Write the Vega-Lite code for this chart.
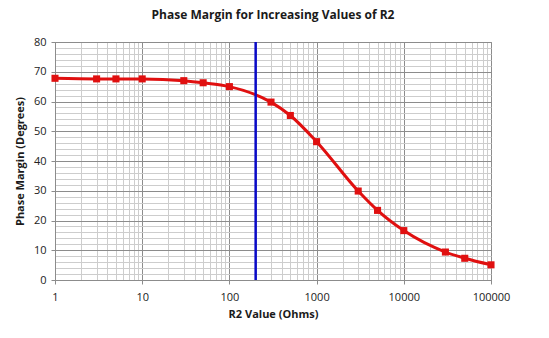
{
  "$schema": "https://vega.github.io/schema/vega-lite/v6.json",
  "width": 436,
  "height": 238,
  "autosize": {"type": "none"},
  "padding": {"left": 55, "top": 42, "right": 58, "bottom": 58},
  "background": "white",
  "title": {
    "text": "Phase Margin for Increasing Values of R2",
    "font": "Open Sans",
    "fontSize": 12,
    "fontWeight": "bold",
    "color": "#1a1a1a",
    "anchor": "middle",
    "offset": 14
  },
  "config": {
    "view": {"stroke": "#8c8c8c", "strokeWidth": 1},
    "axis": {
      "labelFont": "Open Sans",
      "labelFontSize": 11,
      "labelColor": "#222",
      "titleFont": "Open Sans",
      "titleFontSize": 11,
      "titleFontWeight": "bold",
      "titleColor": "#1a1a1a",
      "domainColor": "#8c8c8c",
      "tickColor": "#8c8c8c"
    }
  },
  "datasets": {
    "pm": [
      {"R2": 1, "PM": 67.8},
      {"R2": 3, "PM": 67.6},
      {"R2": 5, "PM": 67.6},
      {"R2": 10, "PM": 67.6},
      {"R2": 30, "PM": 67.0},
      {"R2": 50, "PM": 66.3},
      {"R2": 100, "PM": 65.0},
      {"R2": 300, "PM": 59.8},
      {"R2": 500, "PM": 55.3},
      {"R2": 1000, "PM": 46.5},
      {"R2": 3000, "PM": 29.9},
      {"R2": 5000, "PM": 23.4},
      {"R2": 10000, "PM": 16.6},
      {"R2": 30000, "PM": 9.4},
      {"R2": 50000, "PM": 7.3},
      {"R2": 100000, "PM": 5.1}
    ],
    "marker": [{"R2": 200}]
  },
  "layer": [
    {
      "data": {"name": "pm"},
      "encoding": {
        "x": {
          "field": "R2", "type": "quantitative",
          "scale": {"type": "log", "domain": [1, 100000], "nice": false},
          "axis": {
            "title": "R2 Value (Ohms)",
            "values": [1,2,3,4,5,6,7,8,9,10,20,30,40,50,60,70,80,90,100,200,300,400,500,600,700,800,900,1000,2000,3000,4000,5000,6000,7000,8000,9000,10000,20000,30000,40000,50000,60000,70000,80000,90000,100000],
            "labelExpr": "indexof([1,10,100,1000,10000,100000], datum.value) >= 0 ? format(datum.value, 'd') : ''",
            "labelFlush": false,
            "labelOverlap": false,
            "grid": true,
            "gridColor": {"expr": "indexof([1,10,100,1000,10000,100000], datum.value) >= 0 ? '#8c8c8c' : '#cdcdcd'"},
            "gridWidth": 1,
            "tickSize": 4,
            "tickOpacity": {"expr": "indexof([1,10,100,1000,10000,100000], datum.value) >= 0 ? 1 : 0"},
            "labelPadding": 7,
            "titlePadding": 6
          }
        },
        "y": {
          "field": "PM", "type": "quantitative",
          "scale": {"domain": [0, 80], "nice": false, "zero": true},
          "axis": {
            "title": "Phase Margin (Degrees)",
            "values": [0,2,4,6,8,10,12,14,16,18,20,22,24,26,28,30,32,34,36,38,40,42,44,46,48,50,52,54,56,58,60,62,64,66,68,70,72,74,76,78,80],
            "labelExpr": "datum.value % 10 === 0 ? datum.label : ''",
            "labelOverlap": false,
            "grid": true,
            "gridColor": {"expr": "datum.value % 10 === 0 ? '#8c8c8c' : '#cdcdcd'"},
            "gridWidth": 1,
            "tickSize": 4,
            "tickOpacity": {"expr": "datum.value % 10 === 0 ? 1 : 0"},
            "labelPadding": 5,
            "titlePadding": 8
          }
        }
      },
      "layer": [
        {"mark": {"type": "line", "color": "#e01010", "strokeWidth": 3, "interpolate": "monotone"}},
        {"mark": {"type": "square", "color": "#e01010", "opacity": 1, "size": 50}}
      ]
    },
    {
      "data": {"name": "marker"},
      "mark": {"type": "rule", "color": "#0a0ac8", "strokeWidth": 2.5},
      "encoding": {
        "x": {
          "field": "R2", "type": "quantitative",
          "axis": {
            "title": "R2 Value (Ohms)",
            "values": [1,2,3,4,5,6,7,8,9,10,20,30,40,50,60,70,80,90,100,200,300,400,500,600,700,800,900,1000,2000,3000,4000,5000,6000,7000,8000,9000,10000,20000,30000,40000,50000,60000,70000,80000,90000,100000],
            "labelExpr": "indexof([1,10,100,1000,10000,100000], datum.value) >= 0 ? format(datum.value, 'd') : ''",
            "labelFlush": false,
            "labelOverlap": false,
            "grid": true,
            "gridColor": {"expr": "indexof([1,10,100,1000,10000,100000], datum.value) >= 0 ? '#8c8c8c' : '#cdcdcd'"},
            "gridWidth": 1,
            "tickSize": 4,
            "tickOpacity": {"expr": "indexof([1,10,100,1000,10000,100000], datum.value) >= 0 ? 1 : 0"},
            "labelPadding": 7,
            "titlePadding": 6
          }
        }
      }
    }
  ]
}
